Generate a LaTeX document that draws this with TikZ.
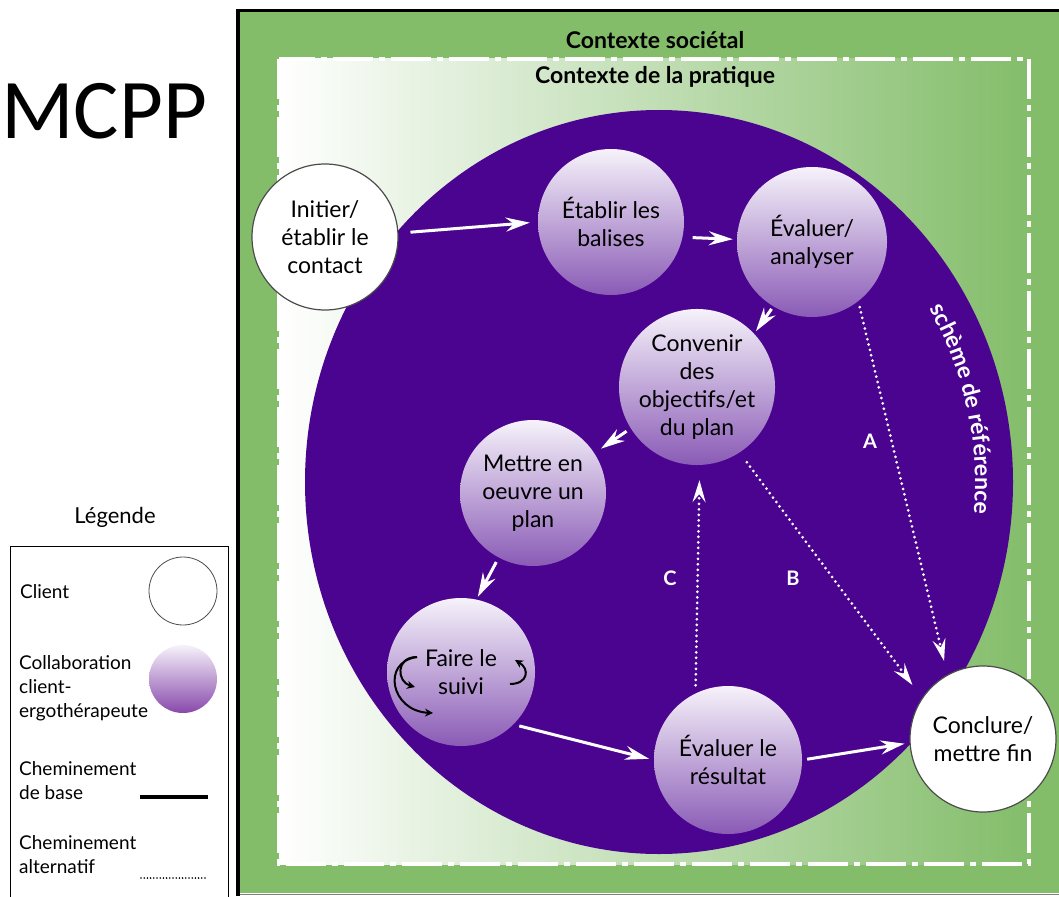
\documentclass[tikz,border=0pt]{standalone}
\usepackage{fontspec}
\setmainfont{Lato}
\newfontfamily\calibri{Carlito}
\usetikzlibrary{arrows.meta}
\usetikzlibrary{decorations.text}
\usetikzlibrary{calc}
\definecolor{gr}{HTML}{83BD6A}
\definecolor{deep}{HTML}{4B048F}
\definecolor{liltop}{HTML}{F6F2FA}
\definecolor{lilbot}{HTML}{8A5BB6}
\tikzset{l/.style={font=\fontsize{23}{28}\selectfont}}
\tikzset{m/.style={font=\fontsize{19}{24}\selectfont, inner sep=0pt}}
\tikzset{hd/.style={font=\bfseries\fontsize{23}{23}\selectfont}}
\tikzset{client/.style={circle, draw=black!70, line width=1.2pt, fill=white, inner sep=0pt, minimum size=148pt, align=center, l}}
\tikzset{collab/.style={circle, top color=liltop, bottom color=lilbot, inner sep=0pt, minimum size=148pt, align=center, l}}
\tikzset{basepath/.style={white, line width=3pt, -{Stealth[length=24pt, width=14pt, inset=8pt]}}}
\tikzset{altpath/.style={white, line width=3pt, line cap=round, dash pattern=on 0pt off 5.5pt, -{Stealth[length=22pt, width=13pt, inset=8pt]}}}
\tikzset{turn/.style={black, line width=2pt, -{Stealth[length=8pt, width=8pt]}}}
\tikzset{abc/.style={white, font=\bfseries\fontsize{20}{20}\selectfont}}

\begin{document}
\begin{tikzpicture}[x=1pt, y=-1pt]
        \useasboundingbox (0,0) rectangle (1059,896);
        \node[font=\calibri\fontsize{85}{85}\selectfont, anchor=base west, inner sep=0pt] (title) at (1,139) {MCPP};
        \node[m, font=\fontsize{22}{22}\selectfont, anchor=base] (legtitle) at (115,523) {Légende};
        \draw[line width=1.2pt] (10.5,546.5) rectangle (228.5,910);
        \node[m, anchor=base west] (legclienttxt) at (20,598) {Client};
        \node[client, minimum size=68pt, line width=0.8pt] (legclient) at (183,591) {};
        \node[m, anchor=west, align=left] (legcollabtxt) at (19,688) {Collaboration\\client-\\ergothérapeute};
        \node[collab, minimum size=68pt, bottom color=lilbot!80!violet] (legcollab) at (183,679) {};
        \node[m, anchor=west, align=left] (legbasetxt) at (19,781) {Cheminement\\de base};
        \coordinate (lb1) at (140,797);
        \coordinate (lb2) at (208,797);
        \draw[line width=4pt] (lb1) -- (lb2);
        \node[m, anchor=west, align=left] (legalttxt) at (19,855) {Cheminement\\alternatif};
        \coordinate (la1) at (141,878);
        \coordinate (la2) at (208,878);
        \draw[line width=1.8pt, line cap=round, dash pattern=on 0pt off 3.2pt] (la1) -- (la2);
        \fill[gr] (240,12) rectangle (1059,893);
        \draw[line width=4pt] (238,9) -- (238,896);
        \draw[line width=3pt] (236,10.5) -- (1059,10.5);
        \draw[black!50, line width=1pt] (240,894.5) -- (1059,894.5);
        \shade[left color=white, right color=gr] (279,59) rectangle (1029,864);
        \draw[white, line width=4pt, dash pattern=on 40pt off 6pt on 6pt off 6pt] (279,59) rectangle (1029,864);
        \node[hd] (societal) at (655,40) {Contexte sociétal};
        \node[hd] (pratique) at (655,77) {Contexte de la pratique};
        \fill[deep] (659,482) ellipse [x radius=354, y radius=372];
        \path[decorate, decoration={text along path, text={|\bfseries\fontsize{23}{23}\selectfont|schème de référence}, text color=white, text align=center}]
          (659,482) ++(-38:316 and 334) arc[start angle=-38, end angle=12, x radius=316, y radius=334];
        \node[client, minimum size=146pt] (init) at (325,237) {Initier/\\établir le\\contact};
        \node[collab, minimum size=146pt] (balises) at (611,222) {Établir les\\balises};
        \node[collab, minimum size=150pt] (eval) at (812,242) {Évaluer/\\analyser};
        \node[collab, minimum size=150pt] (conv) at (697,387) {Convenir\\des\\objectifs/et\\du plan};
        \node[collab, minimum size=146pt] (mettre) at (533,493) {Mettre en\\oeuvre un\\plan};
        \node[collab] (suivi) at (461,672) {Faire le\\suivi};
        \node[collab] (result) at (728,760) {Évaluer le\\résultat};
        \node[client, minimum size=146pt] (concl) at (983,739) {Conclure/\\mettre fin};
        \draw[basepath, shorten <=12pt, shorten >=8pt] (init.3) -- (balises.180);
        \draw[basepath, shorten <=10pt, shorten >=4pt] (balises.-12) -- (eval.178);
        \draw[basepath, shorten <=3pt, shorten >=3pt] (eval.239) -- (conv.43);
        \draw[basepath, shorten <=5pt, shorten >=8pt] (conv.212) -- (mettre.33);
        \draw[basepath, shorten <=5pt, shorten >=3pt] (mettre.242) -- (suivi.78);
        \draw[basepath, shorten <=6pt, shorten >=5pt] (suivi.-45) -- (result.180);
        \draw[basepath, shorten <=5pt, shorten >=5pt] (result.0) -- (concl.183);
        \draw[altpath, shorten <=6pt, shorten >=14pt] (eval.-52) -- (concl.119);
        \draw[altpath, shorten <=12pt, shorten >=16pt] (conv.-57) -- (concl.146);
        \draw[altpath, shorten <=8pt, shorten >=15pt] (result.116) -- (conv.-88);
        \node[abc] (labA) at (870,441) {A};
        \node[abc] (labB) at (793,578) {B};
        \node[abc] (labC) at (670,578) {C};
        \draw[turn] ($(suivi)+(-44,-15)$) .. controls +(-22,0) and +(-18,-5) .. ($(suivi)+(-46,15)$);
        \draw[turn] ($(suivi)+(-44,-15)$) .. controls +(-36,5) and +(-42,-2) .. ($(suivi)+(-28,41)$);
        \draw[turn] ($(suivi)+(49,12)$) .. controls +(18,0) and +(15,9) .. ($(suivi)+(54,-12)$);
\end{tikzpicture}
\end{document}
